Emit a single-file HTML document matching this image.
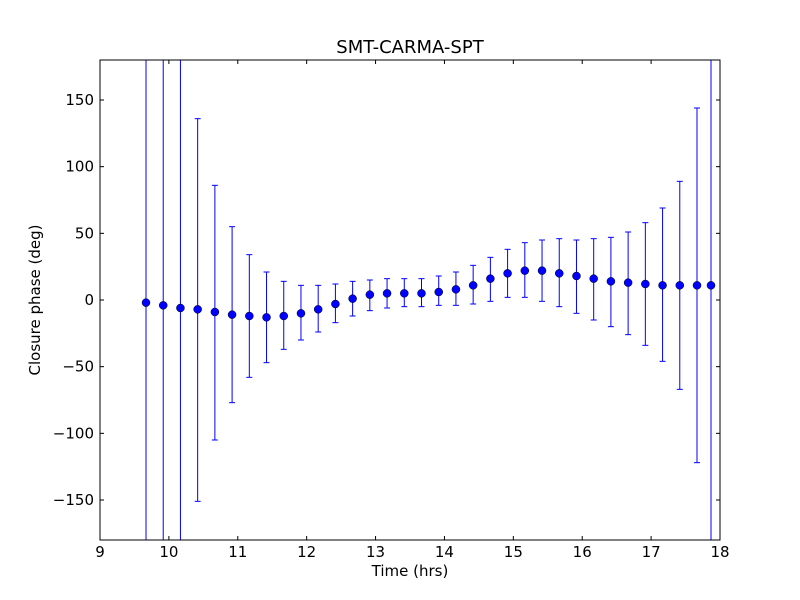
<!DOCTYPE html>
<html><head><meta charset="utf-8">
<style>html,body{margin:0;padding:0;background:#fff;}svg{display:block;font-family:"DejaVu Sans","Liberation Sans",sans-serif;}</style>
</head><body>
<svg id="s" width="800" height="600" xmlns="http://www.w3.org/2000/svg">
<rect width="800" height="600" fill="#fff"/>
</svg>
<script>
var s=document.getElementById('s'),h='';
function X(t){return 100+(t-9)*620/9;}
function Y(d){return 300-d*480/360;}
var d=[[-2,999,-999],[-4,999,-999],[-6,999,-999],[-7,136,-151],[-9,86,-105],[-11,55,-77],[-12,34,-58],[-13,21,-47],[-12,14,-37],[-10,11,-30],[-7,11,-24],[-3,12,-17],[1,14,-12],[4,15,-8],[5,16,-6],[5,16,-5],[5,16,-5],[6,18,-4],[8,21,-4],[11,26,-3],[16,32,-1],[20,38,2],[22,43,2],[22,45,-1],[20,46,-5],[18,45,-10],[16,46,-15],[14,47,-20],[13,51,-26],[12,58,-34],[11,69,-46],[11,89,-67],[11,144,-122],[11,999,-999]];
var xs=[];for(var i=0;i<33;i++)xs.push(146+i*(697-146)/32);xs.push(711);
h+='<defs><clipPath id="c"><rect x="100" y="60" width="620" height="480"/></clipPath></defs><g clip-path="url(#c)">';
d.forEach(function(p,i){var x=xs[i],a=Y(Math.min(p[1],200)),b=Y(Math.max(p[2],-200));
h+='<line x1="'+x+'" y1="'+a+'" x2="'+x+'" y2="'+b+'" stroke="#0000ff" stroke-width="1"/>';
h+='<line x1="'+(x-3)+'" y1="'+a+'" x2="'+(x+3)+'" y2="'+a+'" stroke="#0000ff"/>';
h+='<line x1="'+(x-3)+'" y1="'+b+'" x2="'+(x+3)+'" y2="'+b+'" stroke="#0000ff"/>';
h+='<circle cx="'+x+'" cy="'+Y(p[0])+'" r="4" fill="#0000ff" stroke="#000" stroke-width="0.5"/>';});
h+='</g><rect x="100" y="60" width="620" height="480" fill="none" stroke="#000" stroke-width="1"/>';
for(var t=9;t<=18;t++){var x=X(t);h+='<line x1="'+x+'" y1="540" x2="'+x+'" y2="536" stroke="#000"/><line x1="'+x+'" y1="60" x2="'+x+'" y2="64" stroke="#000"/><text x="'+x+'" y="557" font-size="15" text-anchor="middle">'+t+'</text>';}
for(var v=-150;v<=150;v+=50){var y=Y(v);h+='<line x1="100" y1="'+y+'" x2="104" y2="'+y+'" stroke="#000"/><line x1="716" y1="'+y+'" x2="720" y2="'+y+'" stroke="#000"/><text x="94" y="'+(y+5)+'" font-size="15" text-anchor="end">'+(v<0?'\u2212'+(-v):v)+'</text>';}
h+='<text x="410" y="53" font-size="18" text-anchor="middle">SMT-CARMA-SPT</text>';
h+='<text x="410" y="576" font-size="15" text-anchor="middle">Time (hrs)</text>';
h+='<text transform="translate(40,300) rotate(-90)" font-size="15" text-anchor="middle">Closure phase (deg)</text>';
s.innerHTML+=h;
</script>
</body></html>
